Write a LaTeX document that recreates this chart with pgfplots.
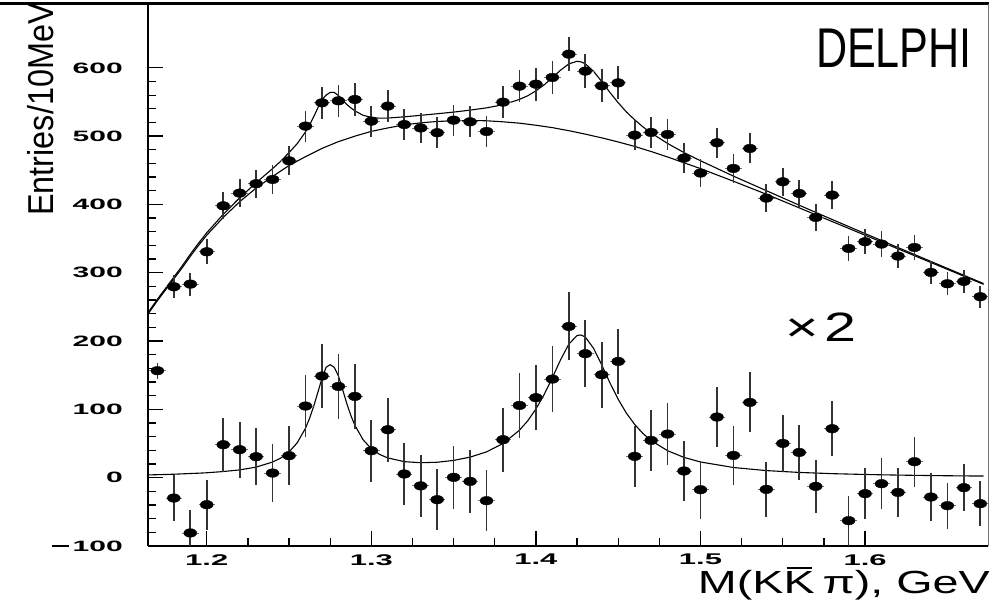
\documentclass[border=0pt]{standalone}
\usepackage{pgfplots}
\pgfplotsset{compat=1.18}
\usepackage{pgfplotstable}
\usepackage{graphicx}
\usepackage{fontspec}
\setmainfont{Liberation Sans}
\newcommand\tk[1]{\scalebox{2.0}[1]{#1}}
\newcommand\tminus{\rule[4.2pt]{8.5pt}{2.3pt}\hspace{2pt}}
\newcommand\Kbar{\setbox0\hbox{K}\rlap{\hbox to\wd0{\hss\vrule height \dimexpr\ht0+4pt\relax depth -\dimexpr\ht0+2.3pt\relax width 0.8\wd0\hss}}\box0}

\pgfplotstableread{
x y e
1.18 279.5 16.7
1.19 283.4 16.8
1.20 330.7 18.2
1.21 398.0 19.9
1.22 416.6 20.4
1.23 430.3 20.7
1.24 436.6 20.9
1.25 463.9 21.5
1.26 514.7 22.7
1.27 548.8 23.4
1.28 551.7 23.5
1.29 553.7 23.5
1.30 522.0 22.8
1.31 544.0 23.3
1.32 517.0 22.7
1.33 512.0 22.6
1.34 505.0 22.5
1.35 523.4 22.9
1.36 521.0 22.8
1.37 506.8 22.5
1.38 549.8 23.4
1.39 573.2 23.9
1.40 576.1 24.0
1.41 585.9 24.2
1.42 620.0 24.9
1.43 595.2 24.4
1.44 573.7 24.0
1.45 578.0 24.0
1.46 501.5 22.4
1.47 505.4 22.5
1.48 502.5 22.4
1.49 467.9 21.6
1.50 446.0 21.1
1.51 490.3 22.1
1.52 452.7 21.3
1.53 482.0 22.0
1.54 409.3 20.2
1.55 433.2 20.8
1.56 416.1 20.4
1.57 381.0 19.5
1.58 413.7 20.3
1.59 335.6 18.3
1.60 345.4 18.6
1.61 342.0 18.5
1.62 324.4 18.0
1.63 337.0 18.4
1.64 300.5 17.3
1.65 283.9 16.8
1.66 287.3 17.0
1.67 264.9 16.3
}\upperdata

\pgfplotstableread{
x y e
1.17 156.6 12.0
1.18 -29.8 33.4
1.19 -80.9 33.6
1.20 -39.5 36.4
1.21 48.3 39.8
1.22 41.0 40.8
1.23 30.7 41.4
1.24 6.8 41.8
1.25 32.2 43.0
1.26 104.9 45.4
1.27 148.8 46.8
1.28 133.6 47.0
1.29 119.0 47.0
1.30 39.5 45.6
1.31 70.2 46.6
1.32 5.4 45.4
1.33 -12.0 45.2
1.34 -32.2 45.0
1.35 0.5 45.8
1.36 -5.4 45.6
1.37 -33.7 45.0
1.38 55.6 46.8
1.39 105.8 47.8
1.40 117.1 48.0
1.41 144.4 48.4
1.42 221.4 49.8
1.43 181.5 48.8
1.44 150.7 48.0
1.45 170.2 48.0
1.46 31.2 44.8
1.47 54.6 45.0
1.48 63.9 44.8
1.49 9.8 43.2
1.50 -17.6 42.2
1.51 88.8 44.2
1.52 32.6 42.6
1.53 110.2 44.0
1.54 -17.1 40.4
1.55 50.2 41.6
1.56 37.0 40.8
1.57 -12.7 39.0
1.58 71.7 40.6
1.59 -62.9 36.6
1.60 -23.4 37.2
1.61 -8.8 37.0
1.62 -21.5 36.0
1.63 23.4 36.8
1.64 -28.3 34.6
1.65 -41.0 33.6
1.66 -14.6 34.0
1.67 -38.0 32.6
}\lowerdata

\pgfplotstableread{
x bg tot sig
1.160 225.5 227.5 3.8
1.165 242 244.1 4.1
1.170 259 261.2 4.4
1.175 275 277.4 4.7
1.180 291 293.6 5.1
1.185 307 309.8 5.6
1.190 324 327.1 6.1
1.195 340 343.3 6.6
1.200 355 358.6 7.2
1.210 381 385.5 9.0
1.220 404 409.7 11.4
1.230 424 431.8 15.5
1.240 441 452.5 22.9
1.245 449 463.4 28.8
1.250 457 475.9 37.7
1.255 463.5 489.1 51.2
1.260 470 506.2 72.4
1.2625 473 516.6 87.1
1.265 476 528.4 104.7
1.2675 479 541.5 124.9
1.270 482 553.5 145.3
1.2725 484.5 560 161.6
1.275 487 564 165.5
1.2775 489.5 564 161.5
1.280 492 559.5 149.0
1.2825 494 553 129.3
1.285 496 546.5 109.3
1.2875 498 541.5 91.4
1.290 500 537 76.7
1.295 503.5 530.5 55.5
1.300 507 527.5 42.4
1.305 509.5 526.3 34.1
1.310 512 526.5 28.9
1.320 516.5 528.3 23.5
1.330 519.5 530.5 21.9
1.340 521.5 532.8 22.6
1.350 522.5 535.2 25.3
1.360 523 538.1 30.1
1.370 522.5 541.4 37.8
1.380 521 546.0 50.0
1.390 519 553.8 69.5
1.395 517.5 559.1 83.2
1.400 516 566.3 100.5
1.405 514.2 575.1 121.8
1.410 512.5 585.8 146.5
1.415 510.2 596.6 172.7
1.420 508 605.8 195.5
1.425 505.5 609.6 208.2
1.4275 504.2 608.7 208.9
1.430 503 606.0 205.9
1.435 500.2 595.0 189.5
1.440 497.5 580.0 165.0
1.445 494.5 563.9 138.7
1.450 491.5 548.9 114.7
1.455 488.2 535.4 94.4
1.460 485 524.0 78.0
1.465 481.2 513.6 64.8
1.470 477.5 504.7 54.4
1.480 469.5 489.3 39.5
1.490 461 475.9 29.7
1.500 452.5 464.0 23.0
1.520 434 441.5 14.9
1.540 415 420.2 10.4
1.560 395 398.9 7.7
1.580 375 378.0 5.9
1.600 355 357.4 4.7
1.620 335 336.9 3.8
1.640 315 316.6 3.1
1.660 295 296.3 2.6
1.672 283 284.2 2.4
}\curvedata

\begin{document}
\begin{tikzpicture}
\path[use as bounding box] (0pt,0pt) rectangle (991pt,608pt);
\begin{axis}[
  at={(148pt,62pt)}, anchor=south west, scale only axis,
  width=840pt, height=541pt,
  xmin=1.1643, xmax=1.6747, ymin=-100, ymax=692,
  axis lines*=left, axis line style={-, line width=1.5pt, black},
  tick align=inside,
  xtick={1.2,1.3,1.4,1.5,1.6}, xticklabels={\tk{1.2},\tk{1.3},\tk{1.4},\tk{1.5},\tk{1.6}},
  ytick={-100,0,100,200,300,400,500,600},
  yticklabels={\tk{\tminus100},\tk{0},\tk{100},\tk{200},\tk{300},\tk{400},\tk{500},\tk{600}},
  minor x tick num=3, minor y tick num=4,
  major tick length=15pt, minor tick length=8pt,
  tick style={line width=1.3pt, black},
  xticklabel style={font=\bfseries\fontsize{15.5}{16}\selectfont, anchor=north, inner sep=0pt, yshift=-8pt},
  yticklabel style={font=\bfseries\fontsize{15}{15}\selectfont, anchor=east, inner sep=0pt, xshift=-25pt},
  clip=true,
]
\addplot[black, line width=1.1pt] table[x=x, y=bg] {\curvedata};
\addplot[black, line width=1.1pt] table[x=x, y=tot] {\curvedata};
\addplot[black, line width=1.1pt] table[x=x, y=sig] {\curvedata};

\addplot[draw=none, mark=none, error bars/.cd, x dir=both, x fixed=0.005, error mark=none,
  error bar style={line width=0.8pt, black!55}] table[x=x, y=y] {\upperdata};
\addplot[draw=none, mark=none, error bars/.cd, x dir=both, x fixed=0.005, error mark=none,
  error bar style={line width=0.8pt, black!55}] table[x=x, y=y] {\lowerdata};

\addplot[only marks, mark=*, mark size=4.3pt, mark options={xscale=1.5, fill=black, draw=black},
  error bars/.cd, y dir=both, y explicit, error mark=none,
  error bar style={line width=1.7pt, black!80}] table[x=x, y=y, y error=e] {\upperdata};
\addplot[only marks, mark=*, mark size=4.3pt, mark options={xscale=1.5, fill=black, draw=black},
  error bars/.cd, y dir=both, y explicit, error mark=none,
  error bar style={line width=1.7pt, black!80}] table[x=x, y=y, y error=e] {\lowerdata};
\end{axis}
\draw[line width=3pt, black] (0pt,604pt) -- (989pt,604pt);
\draw[line width=1pt, black!55] (988pt,62pt) -- (988pt,604pt);
\node[anchor=base west, rotate=90, inner sep=0pt, font=\fontsize{36}{36}\selectfont] at (53pt,392pt) {\scalebox{0.9}[1]{Entries/10MeV}};
\node[anchor=base east, inner sep=0pt, font=\fontsize{56}{56}\selectfont] at (972pt,540pt) {\scalebox{0.77}[1]{DELPHI}};
\node[anchor=base west, inner sep=0pt, font=\fontsize{41}{41}\selectfont] at (785pt,266pt) {\scalebox{1.4}[1]{×\hspace{4pt}2}};
\node[anchor=base east, inner sep=0pt, font=\fontsize{32}{32}\selectfont] at (990pt,15pt) {\scalebox{1.46}[1]{M(K\Kbar\,π), GeV}};
\end{tikzpicture}
\end{document}
